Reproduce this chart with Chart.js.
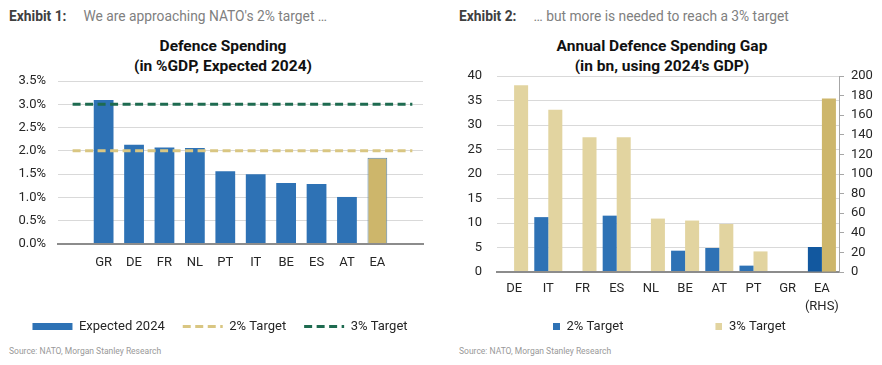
<!DOCTYPE html>
<html>
<head>
<meta charset="utf-8">
<script src="https://cdn.jsdelivr.net/npm/chart.js@4/dist/chart.umd.min.js"></script>
<style>
  html, body { margin: 0; padding: 0; background: #fff; }
  body { width: 882px; height: 365px; position: relative; overflow: hidden; font-family: Roboto, "Liberation Sans", sans-serif; }
  .hdr { position: absolute; top: 8px; font-size: 13.8px; white-space: nowrap; }
  .hdr b { color: #404040; font-weight: 700; }
  .hdr span { color: #808080; }
  .ttl { position: absolute; top: 37px; width: 300px; text-align: center; font-family: Roboto, sans-serif; font-weight: 700; font-size: 15.5px; line-height: 19.5px; color: #111; }
  .src { position: absolute; top: 346px; font-size: 8.5px; color: #999; white-space: nowrap; }
  .cv { position: absolute; top: 0; }
</style>
</head>
<body>
<div class="hdr" style="left:9px"><b>Exhibit 1:</b><span style="margin-left:17px">We are approaching NATO's 2% target …</span></div>
<div class="hdr" style="left:459px"><b>Exhibit 2:</b><span style="margin-left:17px">… but more is needed to reach a 3% target</span></div>
<div class="ttl" style="left:73px">Defence Spending<br>(in %GDP, Expected 2024)</div>
<div class="ttl" style="left:512px">Annual Defence Spending Gap<br>(in bn, using 2024's GDP)</div>
<canvas id="c1" class="cv" style="left:0" width="440" height="343"></canvas>
<canvas id="c2" class="cv" style="left:440px" width="442" height="343"></canvas>
<div class="src" style="left:9px">Source: NATO, Morgan Stanley Research</div>
<div class="src" style="left:459px">Source: NATO, Morgan Stanley Research</div>
<script>
// ---------- Exhibit 1 data ----------
const countries1 = ['GR', 'DE', 'FR', 'NL', 'PT', 'IT', 'BE', 'ES', 'AT', 'EA'];
const expected2024 = [3.09, 2.13, 2.07, 2.06, 1.56, 1.50, 1.31, 1.29, 1.01, 1.85];
const target2 = [2, 2];
const target3 = [3, 3];
const yTicks1 = [0, 0.5, 1.0, 1.5, 2.0, 2.5, 3.0, 3.5];

// ---------- Exhibit 2 data ----------
const countries2 = ['DE', 'IT', 'FR', 'ES', 'NL', 'BE', 'AT', 'PT', 'GR', ['EA', '(RHS)']];
const gap2pct = [0, 11.2, 0, 11.5, 0, 4.35, 4.9, 1.3, 0, null];
const gap3pct = [38.1, 33.1, 27.5, 27.5, 10.9, 10.5, 9.8, 4.2, 0, null];
const eaGap2pct = 25.5;   // RHS
const eaGap3pct = 177;    // RHS
const yTicks2 = [0, 5, 10, 15, 20, 25, 30, 35, 40];
const yTicks2r = [0, 20, 40, 60, 80, 100, 120, 140, 160, 180, 200];

const FONT = 'Roboto, "Liberation Sans", sans-serif';
const BLUE = '#2E72B5';
const GOLD = '#CDB66B';
const LIGHTGOLD = '#E2D4A0';
const GREEN = '#1E6B50';
const DASHGOLD = '#D9C682';
const GRID = '#D9D9D9';
const BASE = '#8C8C8C';
const TXT = '#262626';

Chart.defaults.font.family = FONT;
Chart.defaults.font.size = 13;
Chart.defaults.color = TXT;
Chart.defaults.animation = false;

function legendLabels1(chart) {
  const items = Chart.defaults.plugins.legend.labels.generateLabels(chart);
  items.forEach(it => {
    const ds = chart.data.datasets[it.datasetIndex];
    if (ds.type === 'line') {
      it.pointStyle = 'line';
      it.lineDash = ds.borderDash;
      it.lineWidth = ds.borderWidth;
      it.strokeStyle = ds.borderColor;
    } else {
      it.pointStyle = 'rect';
      it.lineWidth = 0;
      it.strokeStyle = 'rgba(0,0,0,0)';
    }
  });
  return items;
}

// swatch image: small square at the right end of a wider transparent box
function swatch(color, w, size) {
  const c = document.createElement('canvas');
  c.width = w; c.height = size;
  const g = c.getContext('2d');
  g.fillStyle = color;
  g.fillRect(w - size, 0, size, size);
  return c;
}

// ---------- Chart 1 ----------
const lastIdx1 = countries1.length - 1;
const lineSpan = [-1.02, 10.15];
new Chart(document.getElementById('c1'), {
  type: 'bar',
  data: {
    datasets: [
      {
        type: 'bar',
        label: 'Expected 2024',
        data: expected2024.map((v, i) => ({ x: i, y: v })),
        backgroundColor: countries1.map((c, i) => i === lastIdx1 ? GOLD : BLUE),
        borderColor: countries1.map((c, i) => i === lastIdx1 ? '#5A86AD' : BLUE),
        borderWidth: countries1.map((c, i) => i === lastIdx1 ? 1 : 0),
        barPercentage: 0.65,
        categoryPercentage: 1,
        order: 2
      },
      {
        type: 'line',
        label: '2% Target',
        data: target2.map((v, i) => ({ x: lineSpan[i], y: v })),
        borderColor: DASHGOLD,
        borderWidth: 3,
        borderDash: [8, 4.5],
        pointRadius: 0,
        order: 1
      },
      {
        type: 'line',
        label: '3% Target',
        data: target3.map((v, i) => ({ x: lineSpan[i], y: v })),
        borderColor: GREEN,
        borderWidth: 3,
        borderDash: [8, 4.5],
        pointRadius: 0,
        order: 1
      }
    ]
  },
  options: {
    responsive: false,
    devicePixelRatio: 1,
    layout: { padding: { top: 81, left: 0, right: 0, bottom: 0 } },
    plugins: {
      title: { display: false },
      tooltip: { enabled: false },
      legend: {
        position: 'bottom',
        labels: {
          usePointStyle: true,
          pointStyleWidth: 40,
          boxHeight: 7,
          padding: 18,
          font: { size: 13 },
          color: TXT,
          generateLabels: legendLabels1,
          sort: (a, b) => a.datasetIndex - b.datasetIndex
        }
      }
    },
    scales: {
      x: {
        type: 'linear',
        offset: false,
        min: -1.5,
        max: 10.5,
        grid: { display: false, drawTicks: false },
        border: { display: true, color: BASE, width: 2 },
        afterBuildTicks: s => { s.ticks = countries1.map((c, i) => ({ value: i })); },
        afterFit: s => { s.height = 58; },
        ticks: {
          autoSkip: false,
          maxRotation: 0,
          padding: 11,
          font: { size: 13 },
          callback: v => countries1[v] ?? ''
        }
      },
      y: {
        min: 0,
        max: 3.5,
        afterBuildTicks: s => { s.ticks = yTicks1.map(v => ({ value: v })); },
        afterFit: s => { s.width = 58; },
        border: { display: false },
        grid: {
          drawTicks: false,
          color: ctx => ctx.tick && ctx.tick.value === 0 ? BASE : GRID,
          lineWidth: ctx => ctx.tick && ctx.tick.value === 0 ? 2 : 1
        },
        ticks: {
          autoSkip: false,
          padding: 12,
          font: { size: 13 },
          callback: v => v.toFixed(1) + '%'
        }
      },
      spacer: {
        position: 'right',
        display: true,
        grid: { display: false },
        border: { display: false },
        ticks: { display: false },
        afterFit: s => { s.width = 17; }
      }
    }
  }
});

// ---------- Chart 2 ----------
const lastIdx2 = countries2.length - 1;
function legendLabels2(chart) {
  const items = Chart.defaults.plugins.legend.labels.generateLabels(chart);
  items.forEach(it => {
    const ds = chart.data.datasets[it.datasetIndex];
    it.pointStyle = swatch(ds.backgroundColor, 93, 7);
    it.lineWidth = 0;
  });
  return items;
}
new Chart(document.getElementById('c2'), {
  type: 'bar',
  data: {
    labels: countries2,
    datasets: [
      {
        label: '2% Target',
        data: gap2pct,
        backgroundColor: BLUE,
        yAxisID: 'y'
      },
      {
        label: '3% Target',
        data: gap3pct,
        backgroundColor: LIGHTGOLD,
        yAxisID: 'y'
      },
      {
        label: 'EA 2% Target',
        data: countries2.map((c, i) => i === lastIdx2 ? eaGap2pct : null),
        backgroundColor: '#12589F',
        yAxisID: 'y2'
      },
      {
        label: 'EA 3% Target',
        data: countries2.map((c, i) => i === lastIdx2 ? eaGap3pct : null),
        backgroundColor: GOLD,
        yAxisID: 'y2'
      }
    ]
  },
  options: {
    responsive: false,
    devicePixelRatio: 1,
    skipNull: true,
    datasets: { bar: { categoryPercentage: 0.82, barPercentage: 1 } },
    layout: { padding: { top: 76, left: 21, right: 0, bottom: 0 } },
    plugins: {
      title: { display: false },
      tooltip: { enabled: false },
      legend: {
        position: 'bottom',
        align: 'start',
        labels: {
          usePointStyle: true,
          pointStyleWidth: 93,
          boxHeight: 7,
          padding: 6,
          font: { size: 13 },
          color: TXT,
          generateLabels: legendLabels2,
          filter: it => it.datasetIndex < 2
        }
      }
    },
    scales: {
      x: {
        grid: { display: false, drawTicks: false },
        border: { display: true, color: BASE, width: 2 },
        afterFit: s => { s.height = 42; },
        ticks: {
          autoSkip: false,
          maxRotation: 0,
          padding: 8,
          font: { size: 13, lineHeight: 1.35 }
        }
      },
      y: {
        position: 'left',
        min: 0,
        max: 40,
        afterBuildTicks: s => { s.ticks = yTicks2.map(v => ({ value: v })); },
        afterFit: s => { s.width = 36; },
        border: { display: false },
        grid: {
          drawTicks: false,
          color: ctx => ctx.tick && ctx.tick.value === 0 ? BASE : GRID,
          lineWidth: ctx => ctx.tick && ctx.tick.value === 0 ? 2 : 1
        },
        ticks: { autoSkip: false, padding: 15, font: { size: 13 } }
      },
      y2: {
        position: 'right',
        min: 0,
        max: 200,
        afterBuildTicks: s => { s.ticks = yTicks2r.map(v => ({ value: v })); },
        afterFit: s => { s.width = 43; },
        border: { display: true, color: '#A6A6A6', width: 1 },
        grid: { drawOnChartArea: false, drawTicks: true, tickLength: 5, color: '#A6A6A6' },
        ticks: { autoSkip: false, padding: 7, font: { size: 13 } }
      }
    }
  }
});
</script>
</body>
</html>
